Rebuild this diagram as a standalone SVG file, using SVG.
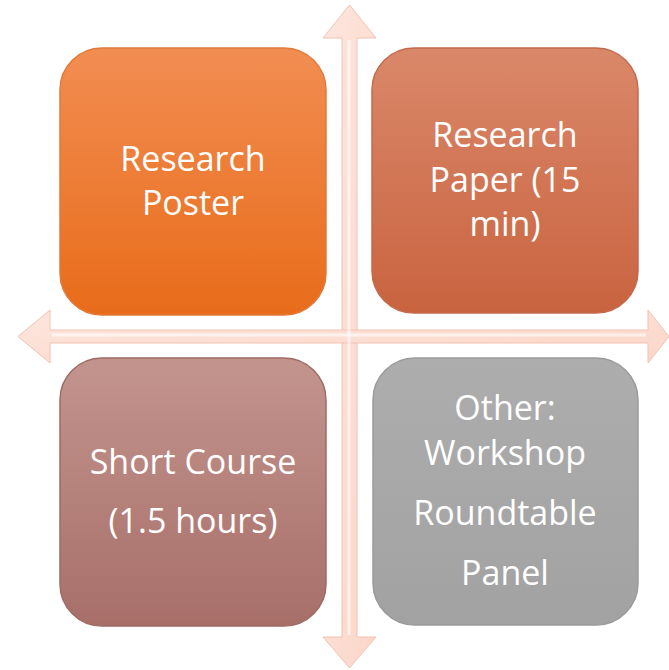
<svg xmlns="http://www.w3.org/2000/svg" width="669" height="670" viewBox="0 0 669 670">
<defs>
<style>
.lbl{font-family:"Open Sans","Noto Sans","Liberation Sans",sans-serif;font-size:34px;fill:#ffffff;text-anchor:middle}
.box{stroke-width:1.5}
.arr{fill:url(#ga);stroke:#f2c2b2;stroke-width:1}
</style>
<linearGradient id="g1" x1="0" y1="0" x2="0" y2="1"><stop offset="0" stop-color="#f28d52"/><stop offset="1" stop-color="#e86c1a"/></linearGradient>
<linearGradient id="g2" x1="0" y1="0" x2="0" y2="1"><stop offset="0" stop-color="#da886a"/><stop offset="1" stop-color="#c9633f"/></linearGradient>
<linearGradient id="g3" x1="0" y1="0" x2="0" y2="1"><stop offset="0" stop-color="#c3948e"/><stop offset="1" stop-color="#a86f69"/></linearGradient>
<linearGradient id="g4" x1="0" y1="0" x2="0" y2="1"><stop offset="0" stop-color="#adadad"/><stop offset="1" stop-color="#a2a2a2"/></linearGradient>
<linearGradient id="ga" x1="0" y1="0" x2="1" y2="1"><stop offset="0" stop-color="#fde6de"/><stop offset="1" stop-color="#fbd6c8"/></linearGradient>
</defs>
<g id="connectors">
<path class="arr" d="M342,38 L323,38 L349.5,5 L376,38 L357,38 L357,637 L376,637 L349.5,668 L323,637 L342,637 Z"/>
<path class="arr" d="M50,330 L50,310 L18,336.5 L50,363 L50,343 L648,343 L648,363 L669,336.5 L648,310 L648,330 Z"/>
<line x1="349" y1="40" x2="349" y2="635" stroke="#ffffff" stroke-width="3" opacity="0.6"/>
<line x1="52" y1="335" x2="646" y2="335" stroke="#ffffff" stroke-width="3" opacity="0.6"/>
</g>
<g id="n1">
<rect class="box" x="60" y="48" width="266" height="267" rx="42" fill="url(#g1)" stroke="#e07a3a"/>
<text class="lbl" x="193" y="171">Research</text>
<text class="lbl" x="193" y="215">Poster</text>
</g>
<g id="n2">
<rect class="box" x="372" y="48" width="266" height="265" rx="42" fill="url(#g2)" stroke="#c46a4c"/>
<text class="lbl" x="505" y="147">Research</text>
<text class="lbl" x="505" y="192">Paper (15</text>
<text class="lbl" x="505" y="236">min)</text>
</g>
<g id="n3">
<rect class="box" x="60" y="358" width="266" height="268" rx="42" fill="url(#g3)" stroke="#9e6a64"/>
<text class="lbl" x="193" y="474">Short Course</text>
<text class="lbl" x="193" y="533">(1.5 hours)</text>
</g>
<g id="n4">
<rect class="box" x="373" y="358" width="265" height="267" rx="42" fill="url(#g4)" stroke="#9a9a9a"/>
<text class="lbl" x="505" y="420">Other:</text>
<text class="lbl" x="505" y="465">Workshop</text>
<text class="lbl" x="505" y="525">Roundtable</text>
<text class="lbl" x="505" y="585">Panel</text>
</g>
</svg>
